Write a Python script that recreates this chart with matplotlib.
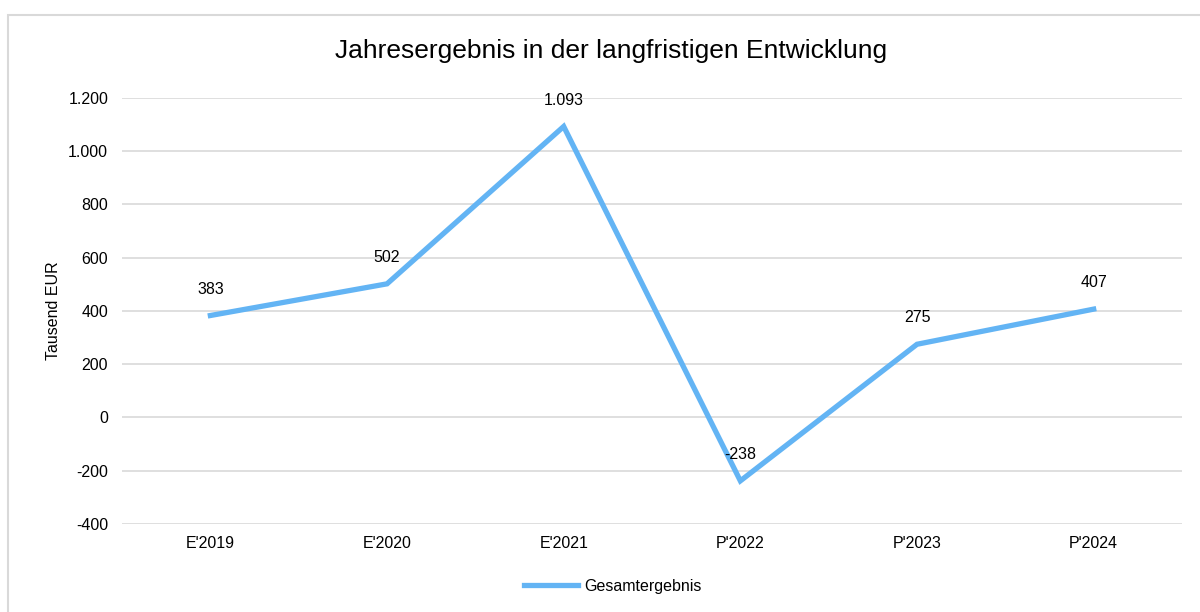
import matplotlib
matplotlib.use("Agg")
from matplotlib import pyplot as plt
from matplotlib.patches import Rectangle

years = ["E'2019", "E'2020", "E'2021", "P'2022", "P'2023", "P'2024"]
gesamtergebnis = [383, 502, 1093, -238, 275, 407]
y_ticks = [-400, -200, 0, 200, 400, 600, 800, 1000, 1200]

plt.rcParams['font.family'] = ['Liberation Sans', 'DejaVu Sans']

line_color = '#63B4F4'
grid_color = '#D9D9D9'
fs = 11.5


def fmt_de(v):
    """ Format number with German thousands separator """
    s = "{:,}".format(int(v)).replace(",", ".")
    return s


fig = plt.figure(figsize=(12, 6.12), dpi=100)
ax = fig.add_axes([0.1017, 0.1438, 0.8833, 0.6961])

# outer frame of the chart area
fig.patches.append(Rectangle((8 / 1200, -0.05), 1.1, 1 - 15 / 612 + 0.05,
                             transform=fig.transFigure, fill=False,
                             edgecolor=grid_color, linewidth=1.5))

x = list(range(len(years)))
ax.plot(x, gesamtergebnis, color=line_color, linewidth=3.8,
        solid_joinstyle='miter', label='Gesamtergebnis', zorder=3)

for xi, v in zip(x, gesamtergebnis):
    ax.annotate(fmt_de(v), (xi, v), xytext=(0, 19), textcoords='offset points',
                ha='center', va='center', fontsize=fs, color='#000000', zorder=4)

ax.set_xlim(-0.5, len(years) - 0.5)
ax.set_ylim(-400, 1200)
ax.set_xticks(x)
ax.set_xticklabels(years)
ax.set_yticks(y_ticks)
ax.set_yticklabels([fmt_de(t) for t in y_ticks])
ax.tick_params(axis='both', length=0, labelsize=fs, colors='#000000')
ax.tick_params(axis='y', pad=10)
ax.tick_params(axis='x', pad=9)
ax.grid(axis='y', color=grid_color, linewidth=1.2)
ax.set_axisbelow(True)
for sp in ax.spines.values():
    sp.set_visible(False)

ax.set_ylabel("Tausend EUR", fontsize=fs)
ax.yaxis.set_label_coords(-0.058, 0.5)

fig.text(0.5094, 1 - 51 / 612, "Jahresergebnis in der langfristigen Entwicklung",
         ha='center', va='center', fontsize=19)

leg = fig.legend(*ax.get_legend_handles_labels(), loc='center',
                 bbox_to_anchor=(613 / 1200, 1 - 586 / 612),
                 frameon=False, fontsize=fs, handlelength=3.4, handletextpad=0.4)

fig.savefig("out.png", dpi=100)
